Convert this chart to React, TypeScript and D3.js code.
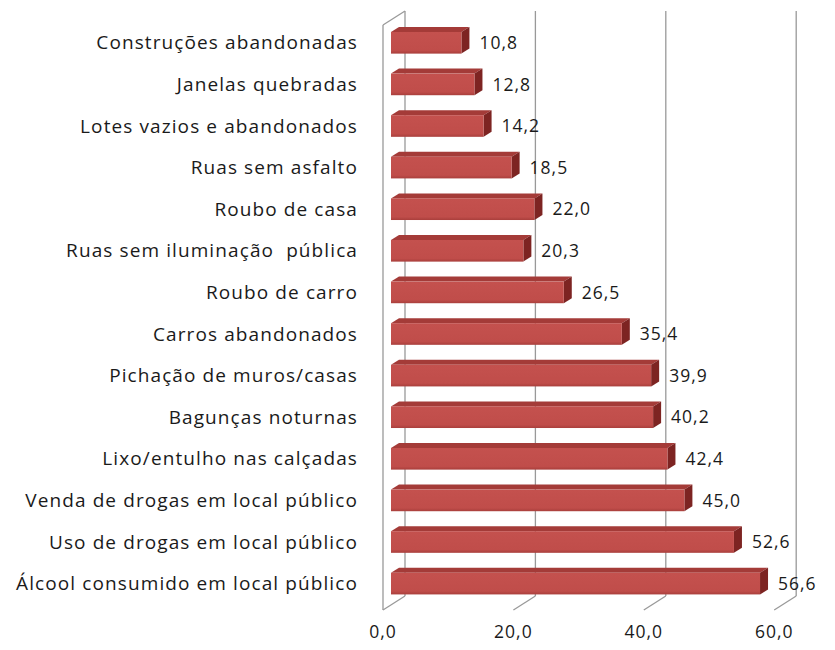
import React from "react";
import * as d3 from "d3";

const categories = [
  "Construções abandonadas",
  "Janelas quebradas",
  "Lotes vazios e abandonados",
  "Ruas sem asfalto",
  "Roubo de casa",
  "Ruas sem iluminação  pública",
  "Roubo de carro",
  "Carros abandonados",
  "Pichação de muros/casas",
  "Bagunças noturnas",
  "Lixo/entulho nas calçadas",
  "Venda de drogas em local público",
  "Uso de drogas em local público",
  "Álcool consumido em local público",
];
const values = [10.8, 12.8, 14.2, 18.5, 22.0, 20.3, 26.5, 35.4, 39.9, 40.2, 42.4, 45.0, 52.6, 56.6];
const ticks = [0, 20, 40, 60];

const W = 835;
const H = 650;
const FONT = "'Open Sans', sans-serif";

export default function App() {
  const frontX0 = 383;
  const pxPerUnit = 6.52;
  const xFront = d3.scaleLinear().domain([0, 60]).range([frontX0, frontX0 + 60 * pxPerUnit]);
  const DX = 22;
  const DY = -14;
  const backBottom = 596;
  const backTop = 11;
  const xBack = (v: number) => xFront(v) + DX;
  const barDX = 8;
  const barDepthX = 8;
  const barDepthY = -5;
  const xBar = (v: number) => xFront(v) + barDX;

  const y = d3
    .scaleBand<string>()
    .domain(categories)
    .range([22, 22 + 14 * 41.6])
    .paddingInner(0.48)
    .paddingOuter(0.24);
  const bw = y.bandwidth();

  const fmt = (v: number) => v.toFixed(1).replace(".", ",");
  const grid = "#999999";

  return (
    <svg width={W} height={H} style={{ position: "absolute", left: 0, top: 0, background: "#fff" }}>
      <defs>
        <linearGradient id="front" x1="0" y1="0" x2="0" y2="1">
          <stop offset="0" stopColor="#c4514e" />
          <stop offset="0.85" stopColor="#c04d4a" />
          <stop offset="1" stopColor="#a93f3c" />
        </linearGradient>
      </defs>
      {ticks.map((t) => (
        <g key={"g" + t}>
          <line x1={xBack(t)} x2={xBack(t)} y1={backTop} y2={backBottom} stroke={grid} strokeWidth={1.3} />
          <line x1={xBack(t)} y1={backBottom} x2={xFront(t)} y2={backBottom - DY} stroke={grid} strokeWidth={1.3} />
        </g>
      ))}
      <line x1={xFront(0)} x2={xFront(0)} y1={backTop - DY} y2={backBottom - DY} stroke={grid} strokeWidth={1.3} />
      <line x1={xFront(0)} y1={backTop - DY} x2={xBack(0)} y2={backTop} stroke={grid} strokeWidth={1.3} />

      {categories.map((c, i) => {
        const v = values[i];
        const y0 = y(c)!;
        const x0 = xBar(0);
        const x1 = xBar(v);
        return (
          <g key={c}>
            <polygon
              points={`${x0},${y0} ${x0 + barDepthX},${y0 + barDepthY} ${x1 + barDepthX},${y0 + barDepthY} ${x1},${y0}`}
              fill="#a43b38"
            />
            <polygon
              points={`${x1},${y0} ${x1 + barDepthX},${y0 + barDepthY} ${x1 + barDepthX},${y0 + bw + barDepthY} ${x1},${y0 + bw}`}
              fill="#7d2422"
            />
            <rect x={x0} y={y0} width={x1 - x0} height={bw} fill="url(#front)" />
            <text
              x={x1 + 18}
              y={y0 + bw / 2}
              dy="0.35em"
              fontFamily={FONT}
              fontSize={17.5}
              letterSpacing={1}
              fill="#1a1a1a"
            >
              {fmt(v)}
            </text>
            <text
              x={358}
              y={y0 + bw / 2}
              dy="0.35em"
              textAnchor="end"
              fontFamily={FONT}
              fontSize={19}
              letterSpacing={1.1}
              fill="#1a1a1a"
              style={{ whiteSpace: "pre" }}
            >
              {c}
            </text>
          </g>
        );
      })}

      {ticks.map((t) => (
        <text
          key={"t" + t}
          x={xFront(t)}
          y={632}
          dy="0.35em"
          textAnchor="middle"
          fontFamily={FONT}
          fontSize={17.5}
          letterSpacing={1}
          fill="#1a1a1a"
        >
          {fmt(t)}
        </text>
      ))}
    </svg>
  );
}
